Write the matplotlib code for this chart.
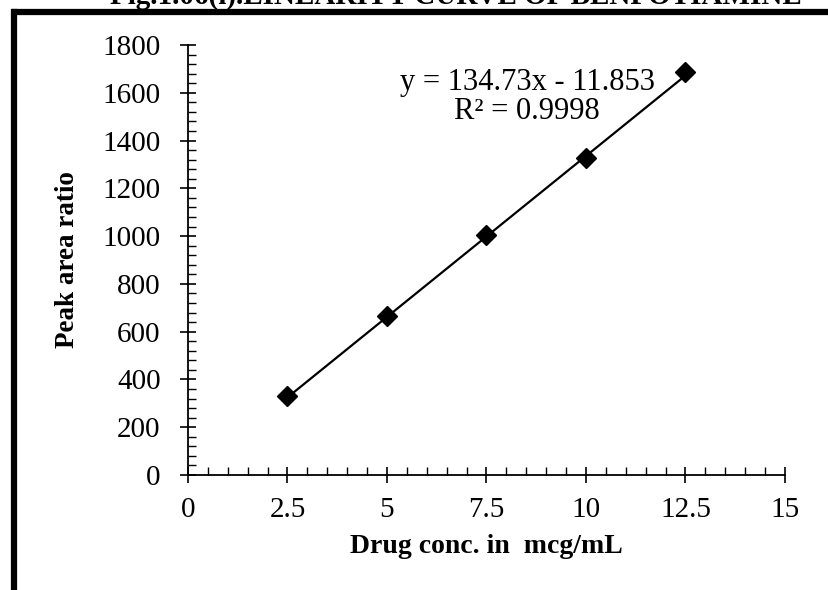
import matplotlib
matplotlib.use("Agg")
import matplotlib.pyplot as plt
from matplotlib.ticker import MultipleLocator
import numpy as np

conc = [2.5, 5, 7.5, 10, 12.5]
peak_ratio = [330, 665, 1005, 1327, 1685]
slope = 134.73
intercept = -11.853
x_ticks = [0, 2.5, 5, 7.5, 10, 12.5, 15]
x_tick_labels = ["0", "2.5", "5", "7.5", "10", "12.5", "15"]
y_ticks = [0, 200, 400, 600, 800, 1000, 1200, 1400, 1600, 1800]

plt.rcParams['font.family'] = ['Liberation Serif', 'DejaVu Serif']

fig = plt.figure(figsize=(8.29, 5.90), dpi=100)
fig.patch.set_facecolor('white')

# frame lines (left and top) of the figure box
fig.add_artist(plt.Line2D([14.5/829, 14.5/829], [0, 1 - 12/590], transform=fig.transFigure,
                          color='black', lw=4.5, solid_capstyle='projecting'))
fig.add_artist(plt.Line2D([12/829, 1], [1 - 12/590, 1 - 12/590], transform=fig.transFigure,
                          color='black', lw=4.5, solid_capstyle='butt'))
fig.text(456/829, 1 - 4/590, "Fig.1.06(i).LINEARITY CURVE OF BENFOTIAMINE", ha='center', va='baseline',
         fontsize=21, fontweight='bold')

ax = fig.add_axes([188/829, 1 - 475/590, (785 - 188)/829, (475 - 45)/590])
ax.set_facecolor('none')

xfit = np.array([conc[0], conc[-1]])
ax.plot(xfit, slope * xfit + intercept, color='black', lw=1.6, zorder=2)
ax.plot(conc, peak_ratio, linestyle='none', marker='D', markersize=10, color='black', zorder=3)

ax.set_xlim(0, 15)
ax.set_ylim(0, 1800)
ax.set_xticks(x_ticks)
ax.set_xticklabels(x_tick_labels)
ax.set_yticks(y_ticks)
ax.xaxis.set_minor_locator(MultipleLocator(0.5))
ax.yaxis.set_minor_locator(MultipleLocator(40))

for s in ['top', 'right']:
    ax.spines[s].set_visible(False)
for s in ['left', 'bottom']:
    ax.spines[s].set_linewidth(1.3)

ax.tick_params(which='major', direction='inout', length=11.5, width=1.2, labelsize=21)
ax.tick_params(axis='x', which='major', pad=10)
ax.tick_params(axis='y', which='major', pad=14)
ax.tick_params(which='minor', direction='in', length=6, width=1.0)

ax.set_xlabel("Drug conc. in  mcg/mL", fontsize=20, fontweight='bold', labelpad=8)
ax.set_ylabel("Peak area ratio", fontsize=19.5, fontweight='bold', labelpad=16)

ax.text(0.568, 0.879, "y = 134.73x - 11.853\nR² = 0.9998", transform=ax.transAxes,
        ha='center', va='center', fontsize=22, linespacing=1.0)

fig.savefig("out.png", dpi=100)
